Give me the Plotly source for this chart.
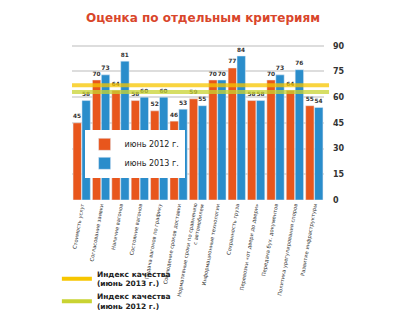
import plotly.graph_objects as go

categories = [
    "Стоимость услуг",
    "Согласование заявки",
    "Наличие вагонов",
    "Состояние вагонов",
    "Подача вагонов по графику",
    "Соблюдение сроков доставки",
    "Нормативные сроки по сравнению<br>с автомобилем",
    "Информационные технологии",
    "Сохранность груза",
    "Перевозки «от двери до двери»",
    "Передача бух. документов",
    "Политика урегулирования споров",
    "Развитие инфраструктуры",
]
june_2012 = [45, 70, 64, 58, 52, 46, 59, 70, 77, 58, 70, 64, 55]
june_2013 = [58, 73, 81, 60, 60, 53, 55, 70, 84, 58, 73, 76, 54]
index_2013 = 67
index_2012 = 63
y_ticks = [0, 15, 30, 45, 60, 75, 90]

ORANGE = "#E8561C"
BLUE = "#2A8DCB"
YELLOW = "#F7C600"
LIME = "#C9D332"

fig = go.Figure()
fig.add_trace(go.Bar(
    x=categories, y=june_2012, name="июнь 2012 г.", marker_color=ORANGE,
    text=june_2012, textposition="outside", cliponaxis=False,
    textfont=dict(size=8, color="#333333", family="DejaVu Sans"),
    texttemplate="<b>%{text}</b>", legend="legend",
))
fig.add_trace(go.Bar(
    x=categories, y=june_2013, name="июнь 2013 г.", marker_color=BLUE,
    text=june_2013, textposition="outside", cliponaxis=False,
    textfont=dict(size=8, color="#333333", family="DejaVu Sans"),
    texttemplate="<b>%{text}</b>", legend="legend",
))
fig.add_trace(go.Scatter(x=[None], y=[None], mode="lines",
                         line=dict(color=YELLOW, width=4),
                         name="<b>Индекс качества<br>(июнь 2013 г.)</b>", legend="legend2"))
fig.add_trace(go.Scatter(x=[None], y=[None], mode="lines",
                         line=dict(color=LIME, width=4),
                         name="<b>Индекс качества<br>(июнь 2012 г.)</b>", legend="legend2"))

for val, col in [(index_2013, YELLOW), (index_2012, LIME)]:
    fig.add_shape(type="line", xref="paper", yref="y", x0=0.0, x1=1.02,
                  y0=val, y1=val, line=dict(color=col, width=4), layer="above",
                  opacity=0.75)

fig.update_layout(
    width=400, height=324,
    margin=dict(l=72, r=76, t=44, b=124, autoexpand=False),
    paper_bgcolor="white", plot_bgcolor="white",
    barmode="group", bargap=0.08, bargroupgap=0.06,
    font=dict(family="DejaVu Sans", color="#333333"),
    legend=dict(x=0.05, y=0.45, xanchor="left", yanchor="top",
                bgcolor="white", font=dict(size=8, family="DejaVu Sans", color="#222222"),
                itemwidth=30, tracegroupgap=0, borderwidth=0),
    legend2=dict(x=-0.06, y=-0.40, xanchor="left", yanchor="top",
                 bgcolor="rgba(0,0,0,0)", font=dict(size=7.5, family="DejaVu Sans", color="#222222"),
                 itemwidth=30, tracegroupgap=6),
    xaxis=dict(tickangle=-80, tickfont=dict(size=5.2, color="#333333"),
               showline=False, ticks="", automargin=False),
    yaxis=dict(side="right", range=[0, 91], tickvals=y_ticks, automargin=False,
               tickfont=dict(size=8, color="#333333", family="DejaVu Sans", weight="bold"),
               showgrid=True, gridcolor="#dddddd", gridwidth=1.5, zeroline=False,
               ticklabelstandoff=8),
)
fig.add_annotation(text="<b>Оценка по отдельным критериям</b>", xref="paper", yref="paper",
                   x=0.52, y=1.0, yshift=26, xanchor="center", yanchor="middle", showarrow=False,
                   font=dict(size=12, color="#D9462B", family="DejaVu Sans"))

fig.write_html("out.html")
